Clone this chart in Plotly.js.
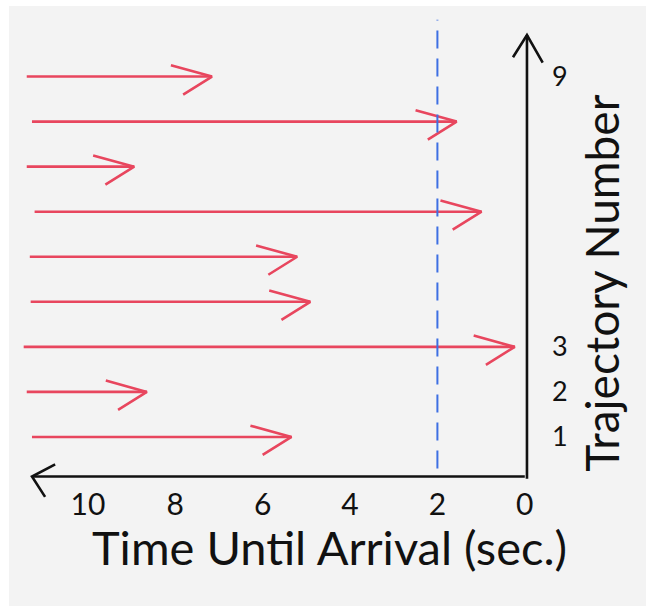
<!DOCTYPE html>
<html><head><meta charset="utf-8">
<script src="https://cdn.plot.ly/plotly-3.0.1.min.js"></script>
<style>html,body{margin:0;padding:0;background:#ffffff;}#chart{position:absolute;left:9px;top:6px;width:637px;height:600px;}</style>
</head><body><div id="chart"></div>
<script>
// Data
const trajectory   = [1, 2, 3, 4, 5, 6, 7, 8, 9];
const startTime    = [11.28, 11.40, 11.47, 11.31, 11.33, 11.22, 11.40, 11.28, 11.40];
const arrivalTime  = [5.34, 8.65, 0.23, 4.91, 5.21, 0.99, 8.94, 1.56, 7.16];
const xTickVals    = [10, 8, 6, 4, 2, 0];
const xTickText    = ['10', '8', '6', '4', '2', '0'];
const yTickVals    = [1, 2, 3, 9];
const yTickText    = ['1', '2', '3', '9'];
const thresholdTime = 2;

// Style constants
const RED = '#e8465e', BLUE = '#3d6fe3', INK = '#111111';
const FONT = 'Lato, "Open Sans", sans-serif';
const headUp = [0.94, 0.25], headDown = [0.66, -0.40];
const axisY = 0.12, axisXEnd = 11.28, axisYTop = 9.92;

// Build arrow paths (shaft + open head) from the data
const ax = [], ay = [];
trajectory.forEach((t, i) => {
  const e = arrivalTime[i];
  ax.push(startTime[i], e, null, e + headUp[0], e, e + headDown[0], null);
  ay.push(t, t, null, t + headUp[1], t, t + headDown[1], null);
});

const traces = [{
  type: 'scatter', mode: 'lines', x: ax, y: ay,
  line: {color: RED, width: 2.6}, hoverinfo: 'skip', showlegend: false,
  connectgaps: false
}];

const shapes = [
  // threshold dashed line
  {type: 'line', xref: 'x', yref: 'y', x0: thresholdTime, x1: thresholdTime, y0: 0.3, y1: 10.26,
   line: {color: BLUE, width: 2, dash: '18px,10px'}},
  // x axis (time axis, pointing left)
  {type: 'line', xref: 'x', yref: 'y', x0: 0, x1: axisXEnd, y0: axisY, y1: axisY,
   line: {color: INK, width: 2.6}},
  {type: 'path', xref: 'x', yref: 'y',
   path: `M ${axisXEnd - 0.53} ${axisY + 0.27} L ${axisXEnd} ${axisY} L ${axisXEnd - 0.30} ${axisY - 0.45}`,
   line: {color: INK, width: 2.6}},
  // y axis (trajectory axis, pointing up)
  {type: 'line', xref: 'x', yref: 'y', x0: -0.05, x1: -0.05, y0: axisY - 0.05, y1: axisYTop,
   line: {color: INK, width: 2.6}},
  {type: 'path', xref: 'x', yref: 'y',
   path: `M 0.27 ${axisYTop - 0.49} L -0.05 ${axisYTop} L -0.41 ${axisYTop - 0.61}`,
   line: {color: INK, width: 2.6}}
];

const layout = {
  width: 637, height: 600,
  margin: {l: 9, r: 95, t: 12, b: 97, pad: 0},
  paper_bgcolor: '#f3f3f3', plot_bgcolor: '#f3f3f3',
  showlegend: false,
  font: {family: FONT, color: INK},
  xaxis: {
    range: [11.6, -0.6], anchor: 'free', position: 0.05,
    tickmode: 'array', tickvals: xTickVals, ticktext: xTickText,
    tickfont: {size: 30, color: INK, family: FONT},
    showgrid: false, zeroline: false, showline: false, ticks: '', fixedrange: true
  },
  yaxis: {
    range: [-0.6, 10.3], side: 'right',
    tickmode: 'array', tickvals: yTickVals, ticktext: yTickText,
    tickfont: {size: 27, color: INK, family: FONT},
    showgrid: false, zeroline: false, showline: false, ticks: '', fixedrange: true
  },
  shapes: shapes,
  annotations: [
    {xref: 'paper', yref: 'paper', x: 0.585, y: -0.078, xanchor: 'center', yanchor: 'middle',
     text: 'Time Until Arrival (sec.)', showarrow: false, font: {size: 47, color: INK, family: FONT}},
    {xref: 'paper', yref: 'paper', x: 1.095, y: 0.46, xanchor: 'center', yanchor: 'middle',
     text: 'Trajectory Number', textangle: -90, showarrow: false, font: {size: 46, color: INK, family: FONT}}
  ]
};

Plotly.newPlot('chart', traces, layout, {displayModeBar: false, staticPlot: true});
</script></body></html>
